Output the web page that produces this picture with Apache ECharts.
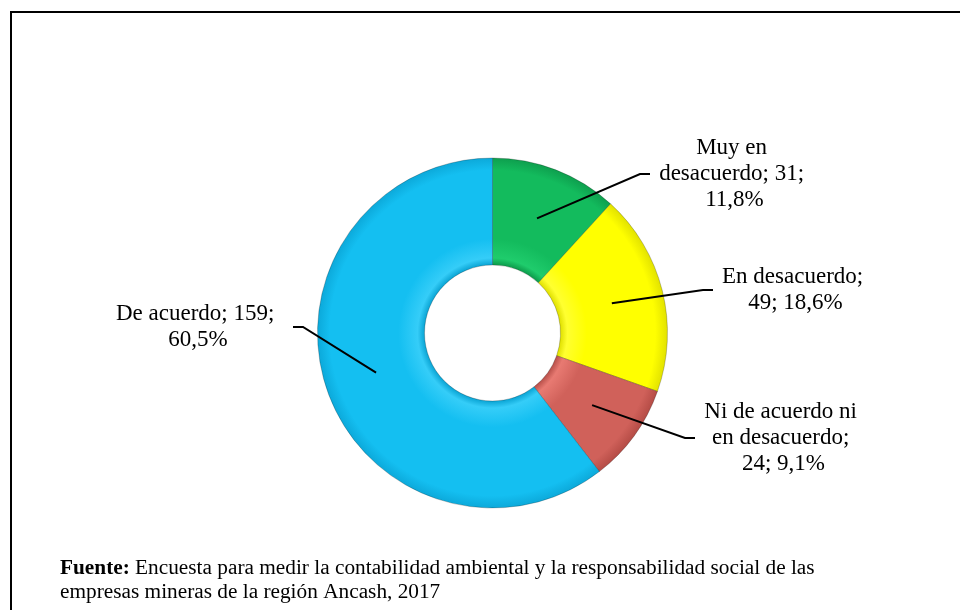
<!DOCTYPE html>
<html>
<head>
<meta charset="utf-8">
<script src="https://cdn.jsdelivr.net/npm/echarts@6/dist/echarts.min.js"></script>
<style>html,body{margin:0;padding:0;background:#fff}#c{width:960px;height:610px}</style>
</head>
<body>
<div id="c"></div>
<script>
// ---- data ----
const categories = ['Muy en desacuerdo', 'En desacuerdo', 'Ni de acuerdo ni en desacuerdo', 'De acuerdo'];
const values = [31, 49, 24, 159];
const sourceNote = 'Encuesta para medir la contabilidad ambiental y la responsabilidad social de las\nempresas mineras de la región Ancash, 2017';

// ---- styling / layout ----
const CX = 492.5, CY = 333, R_OUT = 175, R_IN = 68, R_LABEL = 123;
const baseColors = [
  ['#0c9a4a', '#1fcc6c', '#13bb5d', '#0e9f4e'],
  ['#e0e000', '#ffff30', '#ffff00', '#e2e200'],
  ['#b8504a', '#e87a72', '#d0615a', '#b54c46'],
  ['#0aa4d4', '#35cdf8', '#14bff1', '#0ca9da']
];
function grad(c) {
  const f = R_IN / R_OUT;
  return {
    type: 'radial', x: CX, y: CY, r: R_OUT, global: true,
    colorStops: [
      { offset: f, color: c[0] },
      { offset: f + 0.04, color: c[1] },
      { offset: f + 0.15, color: c[2] },
      { offset: 0.93, color: c[2] },
      { offset: 1, color: c[3] }
    ]
  };
}
const labelPos = [
  { x: 734.5, y: 174, w: 155, p: 7 },
  { x: 795.5, y: 290, w: 150, p: 7.5 },
  { x: 783.5, y: 438, w: 163, p: 7 },
  { x: 198, y: 327, w: 176, p: 7 }
];
const FONT = "'Liberation Serif', 'Times New Roman', serif";

const chart = echarts.init(document.getElementById('c'), null, { renderer: 'canvas' });
chart.setOption({
  animation: false,
  backgroundColor: '#ffffff',
  title: {
    text: '{b|Fuente:} ' + sourceNote,
    left: 55, top: 551,
    textStyle: {
      fontFamily: FONT, fontSize: 21.3, fontWeight: 'normal', color: '#000', lineHeight: 24,
      rich: { b: { fontFamily: FONT, fontSize: 21.3, fontWeight: 'bold', color: '#000', lineHeight: 24 } }
    }
  },
  graphic: [{
    type: 'rect', silent: true,
    shape: { x: 11, y: 12, width: 970, height: 620 },
    style: { fill: 'none', stroke: '#000', lineWidth: 2 }
  }],
  series: [
    {
      type: 'pie', silent: true,
      center: [CX, CY], radius: [R_IN, R_OUT],
      startAngle: 90, clockwise: true,
      label: { show: false }, labelLine: { show: false },
      data: categories.map((n, i) => ({
        name: n, value: values[i],
        itemStyle: { color: grad(baseColors[i]), borderColor: 'rgba(0,0,0,0.22)', borderWidth: 1 }
      }))
    },
    {
      type: 'pie', silent: true, z: 5,
      center: [CX, CY], radius: [0, R_LABEL],
      startAngle: 90, clockwise: true,
      percentPrecision: 1,
      avoidLabelOverlap: false,
      itemStyle: { color: 'rgba(0,0,0,0)' },
      label: {
        show: true, position: 'outside',
        fontFamily: FONT, fontSize: 23, lineHeight: 26, color: '#000',
        align: 'center', overflow: 'break',
        formatter: p => p.name + '; ' + p.value + '; ' + String(p.percent).replace('.', ',') + '%'
      },
      labelLine: { show: true, length: 20, length2: 10, minTurnAngle: 0, lineStyle: { color: '#000', width: 2 } },
      labelLayout: p => {
        const l = labelPos[p.dataIndex];
        return { x: l.x, y: l.y, align: 'center', verticalAlign: 'middle' };
      },
      data: categories.map((n, i) => ({
        name: n, value: values[i],
        label: { width: labelPos[i].w, padding: [0, labelPos[i].p] }
      }))
    }
  ]
});
</script>
</body>
</html>
